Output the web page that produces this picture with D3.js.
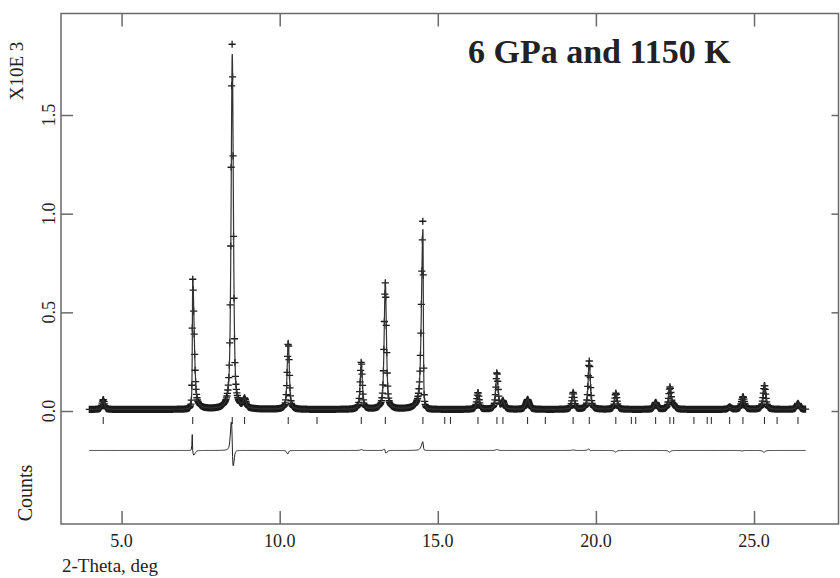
<!DOCTYPE html>
<html>
<head>
<meta charset="utf-8">
<script src="https://cdn.jsdelivr.net/npm/d3@7"></script>
<style>
  html, body { margin: 0; padding: 0; background: #fff; }
  svg text { font-family: "Liberation Serif", "DejaVu Serif", serif; fill: #222; }
</style>
</head>
<body>
<svg id="chart"></svg>
<script>
// Scan range (2-Theta, deg) and step of the measurement
const scanStart = 3.98;
const scanEnd = 26.63;
const scanStep = 0.015;
const background = 0.008; // X10E 3 counts

// Reflection positions (tick row under the pattern)
const reflections = [4.42, 7.25, 8.50, 8.89, 10.27, 11.18, 12.58, 13.34, 14.53, 15.22, 15.40,
  16.27, 16.87, 17.06, 17.84, 18.40, 19.28, 19.79, 20.63, 21.12, 21.26, 21.89, 22.34, 22.46,
  23.10, 23.52, 23.65, 24.23, 24.65, 25.33, 25.73, 26.39];

const peakPos   = [4.42, 7.25, 8.50, 8.89, 10.27, 12.58, 13.34, 14.53, 16.27, 16.87, 17.06, 17.84, 19.28, 19.79, 20.63, 21.89, 22.34, 22.46, 24.23, 24.65, 25.33, 26.39];
const peakObs   = [0.050, 0.660, 1.850, 0.045, 0.335, 0.240, 0.640, 0.960, 0.085, 0.185, 0.040, 0.050, 0.085, 0.245, 0.082, 0.035, 0.112, 0.020, 0.012, 0.064, 0.122, 0.030];
const peakCalc  = [0.050, 0.660, 1.800, 0.045, 0.350, 0.235, 0.645, 0.915, 0.085, 0.180, 0.040, 0.050, 0.082, 0.240, 0.090, 0.035, 0.120, 0.020, 0.012, 0.066, 0.130, 0.030];
const peakLeft  = [0.045, 0.015, 0.042, 0.055, 0.040, 0.040, 0.042, 0.055, 0.045, 0.042, 0.055, 0.065, 0.045, 0.042, 0.045, 0.055, 0.045, 0.055, 0.055, 0.055, 0.050, 0.055];
const peakRight = [0.045, 0.055, 0.042, 0.055, 0.040, 0.040, 0.042, 0.015, 0.045, 0.042, 0.055, 0.065, 0.045, 0.042, 0.045, 0.055, 0.045, 0.055, 0.055, 0.055, 0.050, 0.055];
const peakShift = [0, -0.003, -0.004, 0, 0.001, 0, -0.001, 0, 0, 0, 0, 0, 0, -0.001, 0.001, 0, 0.001, 0, 0, 0.001, 0.001, 0];

const xTicks = [5, 10, 15, 20, 25];
const yTicks = [0, 0.5, 1.0, 1.5];
const diffOffset = -0.2;

const width = 840, height = 578;
const frame = { left: 61, right: 838.5, top: 13.5, bottom: 524 };

const svg = d3.select('#chart')
  .attr('width', width)
  .attr('height', height);

const x = d3.scaleLinear()
  .domain([3.084, 27.672])
  .range([frame.left, frame.right]);

const y = d3.scaleLinear()
  .domain([-0.5726, 2.0144])
  .range([frame.bottom, frame.top]);

// split pseudo-Voigt peak shape
function shape(d, hw) {
  const u = (d / hw) * (d / hw);
  return 0.6 / (1 + u) + 0.4 * Math.exp(-Math.LN2 * u);
}

function profile(t, heights, useShift) {
  let v = background;
  for (let i = 0; i < peakPos.length; i++) {
    const c = peakPos[i] + (useShift ? peakShift[i] : 0);
    const d = t - c;
    if (Math.abs(d) > 2) continue;
    const hw = d < 0 ? peakLeft[i] : peakRight[i];
    v += heights[i] * shape(d, hw);
  }
  return v;
}

const n = Math.round((scanEnd - scanStart) / scanStep) + 1;
const scan = d3.range(n).map(i => {
  const t = scanStart + i * scanStep;
  const obs = profile(t, peakObs, true);
  const calc = profile(t, peakCalc, false);
  return { t, obs, calc, diff: obs - calc + diffOffset };
});

// calculated curve drawn on a finer grid so the peak tops stay smooth
const fine = d3.range(Math.round((scanEnd - scanStart) / 0.004) + 1).map(i => {
  const t = scanStart + i * 0.004;
  return { t, calc: profile(t, peakCalc, false) };
});

// frame
const frameColor = '#6a6a6a';
svg.append('rect')
  .attr('x', frame.left).attr('y', frame.top)
  .attr('width', frame.right - frame.left)
  .attr('height', frame.bottom - frame.top)
  .attr('fill', 'none')
  .attr('stroke', frameColor)
  .attr('stroke-width', 1.5);

// axes with inward ticks
const bottomAxis = svg.append('g')
  .attr('transform', `translate(0,${frame.bottom})`)
  .call(d3.axisTop(x).tickValues(xTicks).tickSize(13).tickFormat(''));
const topAxis = svg.append('g')
  .attr('transform', `translate(0,${frame.top})`)
  .call(d3.axisBottom(x).tickValues(xTicks).tickSize(13).tickFormat(''));
const leftAxis = svg.append('g')
  .attr('transform', `translate(${frame.left},0)`)
  .call(d3.axisRight(y).tickValues(yTicks).tickSize(12).tickFormat(''));
const rightAxis = svg.append('g')
  .attr('transform', `translate(${frame.right},0)`)
  .call(d3.axisLeft(y).tickValues(yTicks).tickSize(7).tickFormat(''));

[bottomAxis, topAxis, leftAxis, rightAxis].forEach(g => {
  g.select('.domain').remove();
  g.selectAll('line').attr('stroke', frameColor).attr('stroke-width', 1.5);
});

// tick labels
svg.append('g').selectAll('text')
  .data(xTicks)
  .join('text')
  .attr('x', d => x(d))
  .attr('y', 547)
  .attr('text-anchor', 'middle')
  .style('font-size', '18px')
  .text(d3.format('.1f'));

svg.append('g').selectAll('text')
  .data(yTicks)
  .join('text')
  .attr('transform', d => `translate(55,${y(d)}) rotate(-90)`)
  .attr('text-anchor', 'middle')
  .style('font-size', '18px')
  .text(d3.format('.1f'));

// axis titles
svg.append('text')
  .attr('x', 62)
  .attr('y', 572)
  .style('font-size', '19px')
  .text('2-Theta, deg');

svg.append('text')
  .attr('transform', 'translate(23,71) rotate(-90)')
  .attr('text-anchor', 'middle')
  .style('font-size', '19px')
  .text('X10E 3');

svg.append('text')
  .attr('transform', 'translate(32,493) rotate(-90)')
  .attr('text-anchor', 'middle')
  .style('font-size', '20px')
  .text('Counts');

// reflection tick row
svg.append('g').selectAll('line')
  .data(reflections)
  .join('line')
  .attr('x1', d => x(d)).attr('x2', d => x(d))
  .attr('y1', 417).attr('y2', 424)
  .attr('stroke', '#222')
  .attr('stroke-width', 1);

// difference curve
svg.append('path')
  .datum(scan)
  .attr('fill', 'none')
  .attr('stroke', '#222')
  .attr('stroke-width', 1)
  .attr('d', d3.line().x(d => x(d.t)).y(d => y(d.diff)));

// observed points as + markers
const arm = 3.6;
const plusPath = scan.map(d => {
  const px = x(d.t), py = y(d.obs);
  return `M${(px - arm).toFixed(2)},${py.toFixed(2)}h${2 * arm}M${px.toFixed(2)},${(py - arm).toFixed(2)}v${2 * arm}`;
}).join('');
svg.append('path')
  .attr('d', plusPath)
  .attr('fill', 'none')
  .attr('stroke', '#1a1a1a')
  .attr('stroke-width', 1.3);

// calculated profile
svg.append('path')
  .datum(fine)
  .attr('fill', 'none')
  .attr('stroke', '#333')
  .attr('stroke-width', 1.2)
  .attr('d', d3.line().x(d => x(d.t)).y(d => y(d.calc)));

// title
svg.append('text')
  .attr('x', 468)
  .attr('y', 63)
  .style('font-size', '34px')
  .style('font-weight', 'bold')
  .text('6 GPa and 1150 K');
</script>
</body>
</html>
